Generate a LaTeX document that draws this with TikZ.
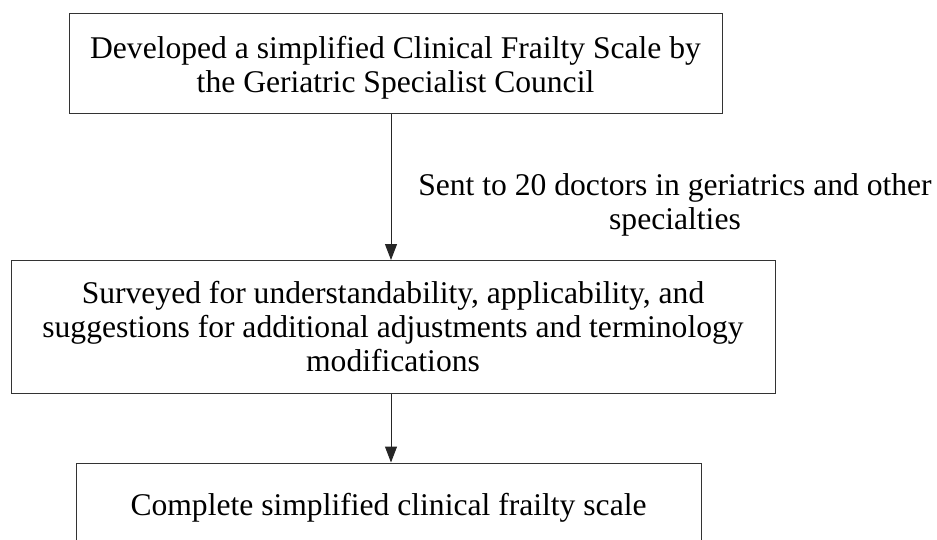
\documentclass[tikz,border=0pt]{standalone}
\usepackage{fontspec}
\setmainfont{Liberation Serif}
\usetikzlibrary{arrows.meta}
\begin{document}
\begin{tikzpicture}[x=1pt,y=-1pt,
  box/.style={draw=black!80, line width=1pt, rectangle, inner sep=0pt},
  txt/.style={align=center, font=\fontsize{31.6}{34}\selectfont, inner sep=0pt, anchor=north},
  arr/.style={draw=black!85, line width=1pt, -{Triangle[width=12pt,length=16pt]}}]
\useasboundingbox (0,0) rectangle (937,539);
\clip (0,0) rectangle (937,539);
\node[box, minimum width=653pt, minimum height=100pt] (b1) at (395.5,63.5) {};
\node[txt] (t1) at (395.5,36.5) {Developed a simplified Clinical Frailty Scale by\\the Geriatric Specialist Council};
\node[box, minimum width=764pt, minimum height=133pt] (b2) at (393,327) {};
\node[txt] (t2) at (393,281.5) {Surveyed for understandability, applicability, and\\suggestions for additional adjustments and terminology\\modifications};
\node[box, minimum width=625pt, minimum height=90pt] (b3) at (388.5,508) {};
\node[txt] (t3) at (388.5,493.5) {Complete simplified clinical frailty scale};
\coordinate (ax) at (391,0);
\draw[arr] (b1.south -| ax) -- (b2.north -| ax);
\draw[arr] (b2.south -| ax) -- (b3.north -| ax);
\node[txt] (lab) at (675,173.5) {Sent to 20 doctors in geriatrics and other\\specialties};
\end{tikzpicture}
\end{document}
